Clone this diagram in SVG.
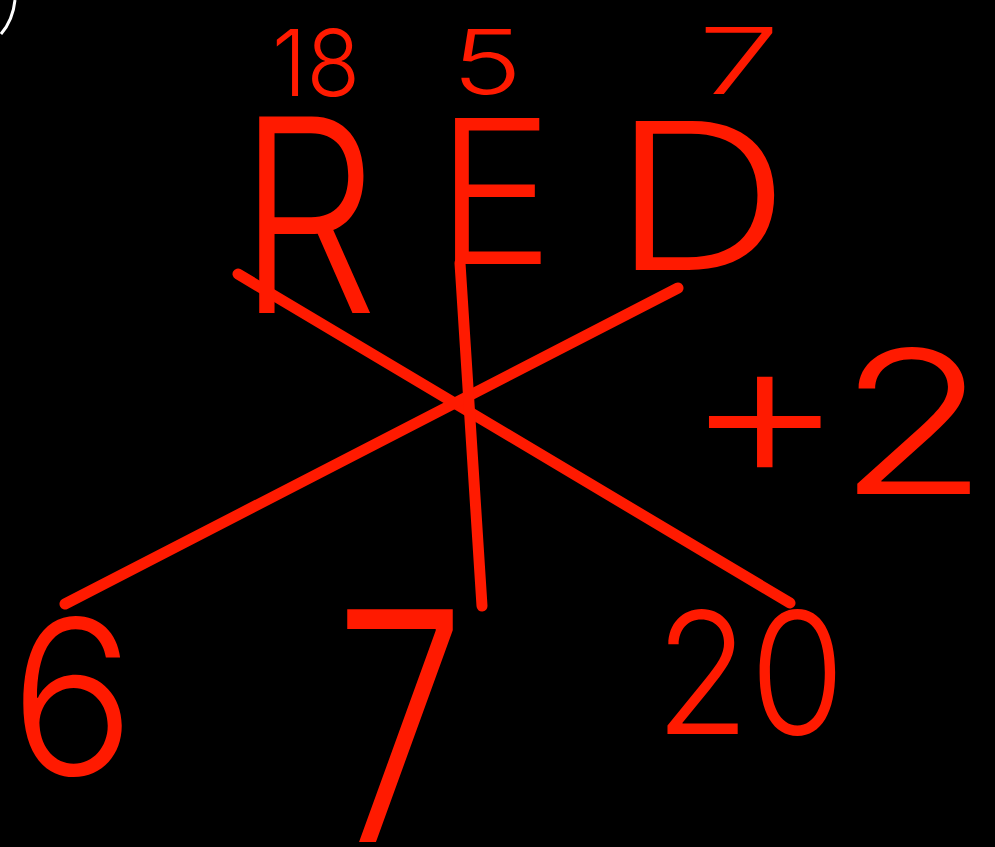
<svg xmlns="http://www.w3.org/2000/svg" width="995" height="847" viewBox="0 0 995 847">
<style>
.t{fill:#ff1a00;font-family:Inter,"Open Sans","Liberation Sans",sans-serif;font-weight:300}
.ln{stroke:#ff1a00;stroke-width:11;stroke-linecap:round;fill:none}
</style>
<rect width="995" height="847" fill="#000"/>
<path d="M1,34 Q13,20 15,0" stroke="#fff" stroke-width="3" fill="none"/>
<g id="connectors">
<path class="ln" d="M238,274 L790,603"/>
<path class="ln" d="M678,288 L65,604"/>
<path class="ln" d="M460,263 L482,606"/>
</g>
<g id="n18"><text class="t" x="272" y="96" font-size="92" textLength="88" lengthAdjust="spacingAndGlyphs">18</text></g>
<g id="n5"><text class="t" x="452" y="94" font-size="90" textLength="70" lengthAdjust="spacingAndGlyphs">5</text></g>
<g id="n7top"><text class="t" x="698" y="94" font-size="92" textLength="82" lengthAdjust="spacingAndGlyphs">7</text></g>
<g id="nR"><text class="t" x="238" y="313" font-size="270" textLength="140" lengthAdjust="spacingAndGlyphs">R</text></g>
<g id="nE"><text class="t" x="436" y="264" font-size="200" textLength="118" lengthAdjust="spacingAndGlyphs">E</text></g>
<g id="nD"><text class="t" x="612" y="270" font-size="205" textLength="178" lengthAdjust="spacingAndGlyphs">D</text></g>
<g id="nplus2"><text class="t" x="684" y="494" font-size="200" textLength="305" lengthAdjust="spacingAndGlyphs">+2</text></g>
<g id="n6"><text class="t" x="10" y="775" font-size="215" textLength="125" lengthAdjust="spacingAndGlyphs">6</text></g>
<g id="n7bot"><text class="t" x="335" y="842" font-size="320" textLength="130" lengthAdjust="spacingAndGlyphs">7</text></g>
<g id="n20"><text class="t" x="655" y="734" font-size="170" textLength="190" lengthAdjust="spacingAndGlyphs">20</text></g>
</svg>
